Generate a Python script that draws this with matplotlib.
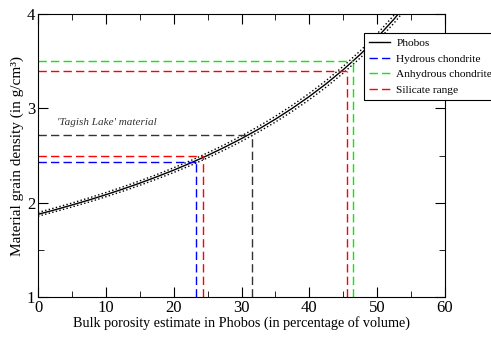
import matplotlib
matplotlib.use("Agg")
import matplotlib.pyplot as plt
from matplotlib.ticker import MultipleLocator

# porosity (%) and grain density
porosity = [0, 2.5, 5, 7.5, 10, 12.5, 15, 17.5, 20, 22.5, 25, 27.5, 30,
            32.5, 35, 37.5, 40, 42.5, 45, 47.5, 50, 52.5, 55]
phobos = [1.876, 1.924, 1.975, 2.028, 2.084, 2.144, 2.207, 2.274, 2.345, 2.421,
          2.501, 2.588, 2.680, 2.779, 2.886, 3.002, 3.127, 3.263, 3.411, 3.573,
          3.752, 3.949, 4.169]
phobos_hi = [1.896, 1.945, 1.996, 2.050, 2.107, 2.167, 2.231, 2.298, 2.370, 2.446,
             2.528, 2.615, 2.709, 2.809, 2.917, 3.034, 3.160, 3.297, 3.447, 3.611,
             3.792, 3.991, 4.213]
phobos_lo = [1.856, 1.904, 1.954, 2.006, 2.062, 2.121, 2.184, 2.250, 2.320, 2.395,
             2.475, 2.560, 2.651, 2.750, 2.855, 2.970, 3.093, 3.228, 3.375, 3.535,
             3.712, 3.907, 4.124]

# reference materials: (grain density, porosity where it meets the curve)
tagish = (2.72, 31.5)
hydrous = (2.43, 23.3)
anhydrous = (3.50, 46.5)
silicate = [(2.49, 24.3), (3.40, 45.5)]

plt.rcParams['font.family'] = ['Liberation Serif', 'DejaVu Serif']

fig = plt.figure(figsize=(4.91, 3.37), dpi=100)
ax = fig.add_axes([0.0774, 0.119, 0.829, 0.839])

ax.plot(porosity, phobos, color='black', lw=1.0, label='Phobos')
ax.plot(porosity, phobos_hi, color='black', lw=1.0, ls=':')
ax.plot(porosity, phobos_lo, color='black', lw=1.0, ls=':')

dash = (0, (6, 3))


def guide(d, p, color, label=None):
    ax.plot([0, p], [d, d], color=color, lw=1.0, ls=dash, label=label)
    ax.plot([p, p], [1, d], color=color, lw=1.0, ls=dash)


guide(tagish[0], tagish[1], '#333333')
guide(hydrous[0], hydrous[1], '#0000ff', 'Hydrous chondrite')
guide(anhydrous[0], anhydrous[1], '#00ee00', 'Anhydrous chondrite')
guide(silicate[0][0], silicate[0][1], '#ff0000', 'Silicate range')
guide(silicate[1][0], silicate[1][1], '#ff0000')

ax.text(2.8, 2.82, "'Tagish Lake' material", fontsize=8, style='italic',
        color='#333333')

ax.set_xlim(0, 60)
ax.set_ylim(1, 4)
ax.xaxis.set_major_locator(MultipleLocator(10))
ax.xaxis.set_minor_locator(MultipleLocator(5))
ax.yaxis.set_major_locator(MultipleLocator(1))
ax.yaxis.set_minor_locator(MultipleLocator(0.5))
ax.tick_params(which='both', direction='in', top=True, right=True,
               labelsize=12, pad=2)
ax.tick_params(which='major', length=7)
ax.tick_params(which='minor', length=4)

ax.set_xlabel('Bulk porosity estimate in Phobos (in percentage of volume)',
              fontsize=10.2, labelpad=0)
ax.set_ylabel('Material grain density (in g/cm\u00b3)', fontsize=11, labelpad=2)

leg = fig.legend(loc='upper left', bbox_to_anchor=(364 / 491, 1 - 33 / 337),
                 fontsize=8.2, frameon=True, fancybox=False, edgecolor='black',
                 framealpha=1, handlelength=1.8, handletextpad=0.6,
                 borderpad=0.45, labelspacing=0.5, borderaxespad=0)
leg.get_frame().set_linewidth(0.8)

fig.savefig('out.png', dpi=100)
